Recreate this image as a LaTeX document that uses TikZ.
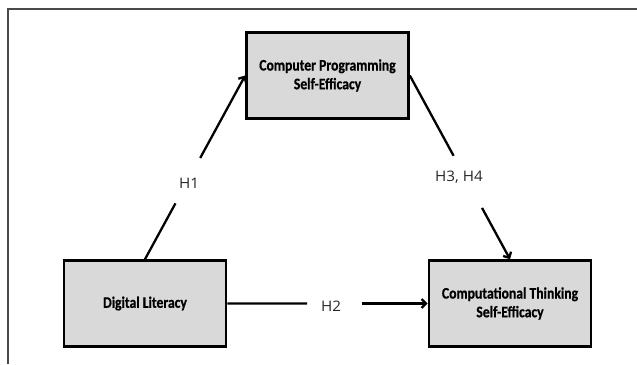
\documentclass[tikz,border=0pt]{standalone}
\usepackage{fontspec}
\usetikzlibrary{arrows.meta,calc}
\newfontfamily\boxfont{Carlito}[BoldFeatures={FakeStretch=0.855,FakeBold=0.6}]
\newfontfamily\labfont{Open Sans}[FakeStretch=1.05]
\definecolor{boxgray}{HTML}{D9D9D9}
\definecolor{framegray}{HTML}{4A4A4A}
\begin{document}
\begin{tikzpicture}[x=1pt,y=-1pt,
  varbox/.style={draw=black, fill=boxgray, line width=2.6pt, minimum width=162pt, minimum height=86pt,
    align=center, inner sep=0pt, font=\boxfont\bfseries\fontsize{16}{18.7}\selectfont},
  conn/.style={line width=2.3pt, black},
  tipped/.style={conn, -{Straight Barb[length=4.5pt,width=9pt]}},
  hlabel/.style={font=\labfont\fontsize{14.5}{17}\selectfont, inner sep=0pt, text=black!85}]
\useasboundingbox (0,0) rectangle (637,364);
\draw[framegray, line width=1.6pt] (8,364) -- (8,9) -- (637,9);
\node[varbox] (cp) at (327.5,75.5) {Computer Programming\\Self-Efficacy};
\node[varbox] (dl) at (145,303.5) {Digital Literacy};
\node[varbox] (ct) at (510,303.5) {Computational Thinking\\Self-Efficacy};
% H1
\draw[conn] (dl.north) -- ($(dl.north)!0.304!(cp.west)$);
\draw[tipped] ($(dl.north)!0.551!(cp.west)$) -- (cp.west);
\node[hlabel] (h1) at (189,183) {H1};
% H3, H4
\draw[conn] (cp.east) -- ($(cp.east)!0.437!(ct.north)$);
\draw[tipped] ($(cp.east)!0.721!(ct.north)$) -- (ct.north);
\node[hlabel] (h34) at (459,177) {H3, H4};
% H2
\draw[conn] (dl.east) -- ($(dl.east)!0.398!(ct.west)$);
\draw[tipped] ($(dl.east)!0.672!(ct.west)$) -- (ct.west);
\node[hlabel] (h2) at (331,306.5) {H2};
\end{tikzpicture}
\end{document}
